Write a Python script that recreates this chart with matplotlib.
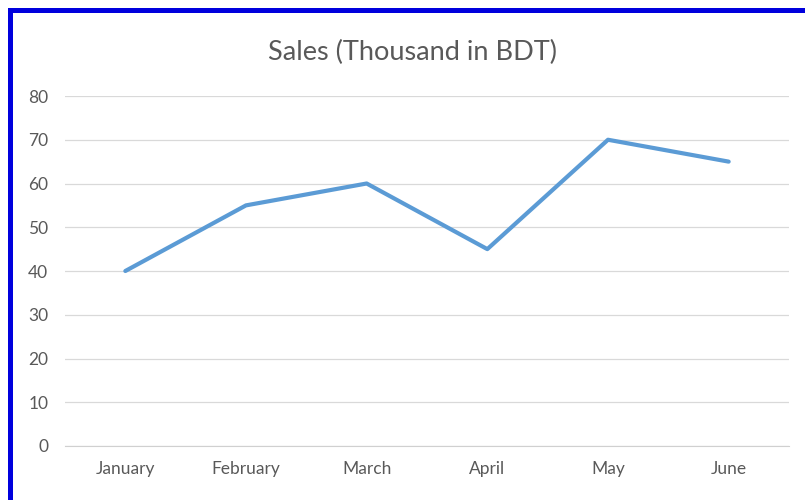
import matplotlib.pyplot as plt
from matplotlib.patches import Rectangle

months = ["January", "February", "March", "April", "May", "June"]
sales = [40, 55, 60, 45, 70, 65]
yticks = [0, 10, 20, 30, 40, 50, 60, 70, 80]

plt.rcParams["font.family"] = ["Lato", "DejaVu Sans"]

W, H = 805, 500
fig = plt.figure(figsize=(W / 100, H / 100), dpi=100)
fig.patch.set_facecolor("white")

ax = fig.add_axes([65 / W, 1 - 446 / H, (789 - 65) / W, (446 - 96) / H])
x = list(range(len(months)))
ax.plot(x, sales, color="#5B9BD5", linewidth=3.0, solid_capstyle="round",
        solid_joinstyle="round", zorder=3)

ax.set_xlim(-0.5, len(months) - 0.5)
ax.set_ylim(0, 80)
ax.set_yticks(yticks)
ax.set_xticks(x)
ax.set_xticklabels(months)
ax.yaxis.grid(True, color="#D9D9D9", linewidth=0.9)
ax.set_axisbelow(True)
for s in ["top", "right", "left"]:
    ax.spines[s].set_visible(False)
ax.spines["bottom"].set_color("#D0D0D0")
ax.tick_params(axis="both", length=0, labelsize=12.5, colors="#595959")
ax.tick_params(axis="y", pad=12)
ax.tick_params(axis="x", pad=11)

fig.text(412 / W, 1 - 52 / H, "Sales (Thousand in BDT)", ha="center",
         va="center", fontsize=19.5, color="#595959")

# blue frame on top and left edges
fig.patches.append(Rectangle((8, H - 13), W - 8, 5, transform=None,
                             facecolor="#0000DD", edgecolor="none"))
fig.patches.append(Rectangle((8, 0), 5, H - 8, transform=None,
                             facecolor="#0000DD", edgecolor="none"))

fig.savefig("out.png", dpi=100)
